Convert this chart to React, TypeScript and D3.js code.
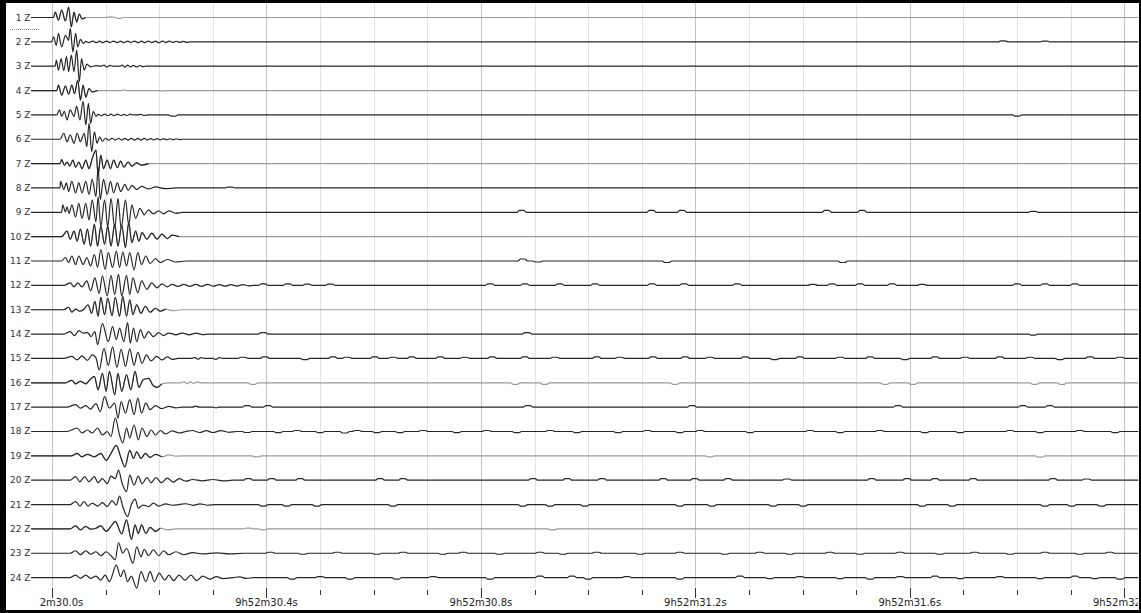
import React from "react";
import * as d3 from "d3";

const WIDTH = 1141;
const HEIGHT = 613;

// ---- data ----
const channelLabels = Array.from({ length: 24 }, (_, i) => `${i + 1} Z`);
const greyChannels = ["1 Z", "4 Z", "7 Z", "10 Z", "13 Z", "16 Z", "19 Z", "22 Z"];
const majorTickMs = [0, 400, 800, 1200, 1600, 2000];
const majorTickLabels = ["9h52m30.0s", "9h52m30.4s", "9h52m30.8s", "9h52m31.2s", "9h52m31.6s", "9h52m32.0s"];
const minorTickStepMs = 100;
const recordStartMs = -39;
const recordEndMs = 2026;

// arrival wavelets: [ms after 9h52m30.0s, amplitude]
const arrivals: [number, number][][] = [
  [[3,0],[6,5.5],[12,-2.5],[18,7.5],[25,-3.5],[31,10.5],[36,-9.5],[41,5.5],[46,-4.5],[51,3.5],[56,-1.5],[63,0],[100,0],[110,0.7],[118,0],[126,-1],[133,0]],
  [[-1,0],[3,5],[8,-3.5],[12,8.5],[18,-5],[25,6.5],[31,1.5],[34,13.5],[39,-10],[44,8.5],[48,-5],[53,2.5],[58,-1.5],[63,0.5],[69,-0.8],[76,0.8],[82,-0.8],[89,0.7],[95,-0.8],[102,0.8],[108,-0.7],[115,0.8],[121,-0.8],[128,0.7],[134,-0.8],[141,0.8],[147,-0.7],[154,0.8],[160,-0.8],[167,0.7],[173,-0.8],[180,0.8],[186,-0.7],[193,0.7],[199,-0.8],[206,0.7],[212,-0.7],[219,0.7],[225,-0.6],[232,0.6],[238,-0.6],[245,0.5],[251,-0.5],[257,0]],
  [[6,0],[8,6],[12,-4],[17,7.5],[22,-4.5],[27,9.5],[31,-5.5],[36,11],[41,-5.5],[46,16],[51,-15.5],[55,7.5],[60,-4],[65,2],[72,-0.7],[82,0.5],[91,0],[97,1],[102,-0.8],[108,0.8],[113,0],[126,0],[131,1],[136,-1],[141,1],[146,-0.8],[152,0.8],[158,-0.8],[164,0.7],[170,-0.5],[175,0]],
  [[9,0],[12,5.5],[18,-4.5],[25,4.5],[31,-3.5],[37,5.5],[42,-3],[48,10.5],[53,-9.5],[58,5.5],[63,-6.5],[69,2],[75,-1.5],[85,0],[130,0],[135,0.6],[140,0],[200,0],[205,-0.6],[210,0]],
  [[9,0],[14,5],[18,-1.5],[23,3.5],[28,-5],[34,5],[41,-1.5],[46,8.5],[52,-5],[58,13.5],[63,-10],[68,11.5],[72,-8.5],[77,3.5],[82,-1.5],[86,0.5],[92,-0.7],[98,0.7],[104,-0.7],[110,0.7],[116,-0.7],[122,0.7],[128,-0.6],[134,0.6],[140,-0.6],[146,0.8],[150,0],[160,0],[166,0.6],[172,-0.6],[180,0]],
  [[15,0],[22,6],[28,-2.5],[34,4.5],[41,-4],[47,6],[53,-2.5],[60,6],[65,-7.5],[69,16],[74,-12.5],[79,7.5],[84,-4],[89,2.5],[94,-2],[100,1],[106,-1],[112,1],[118,-0.8],[124,1],[130,-0.8],[136,0.8],[142,-0.8],[148,0.8],[154,-0.8],[160,0.8],[166,-0.8],[172,0.8],[178,-0.7],[184,0.7],[190,-0.7],[196,0.6],[202,-0.6],[208,0.6],[214,-0.5],[220,0.5],[226,-0.5],[232,0.5],[238,-0.4],[244,0]],
  [[15,0],[18,4],[23,-1.5],[28,1.5],[33,-2.5],[39,3.5],[44,-3.5],[50,1.5],[56,-5],[63,3.5],[69,-5],[75,5],[82,13.5],[86,-11.5],[91,8.5],[96,-5],[103,3.5],[109,-5],[115,3.5],[122,-4],[128,2.5],[134,-3.5],[142,1.5],[149,-2.5],[158,0.7],[167,-1.5],[180,0]],
  [[15,0],[16,6.5],[22,-1.5],[27,5],[31,-3.5],[37,6.5],[44,-5],[50,5],[56,-5],[63,6.5],[69,-6.5],[75,8.5],[82,-8.5],[86,20],[90,-11.5],[96,8.5],[103,-6.5],[109,6.5],[115,-5],[122,5],[128,-3.5],[136,3.5],[142,-2.5],[149,2.5],[158,-1.5],[167,1.5],[180,-1],[193,1],[212,-0.7],[231,0]],
  [[18,0],[20,7.5],[25,0.5],[28,5.5],[32,-1],[37,7.5],[44,-4.5],[50,9],[56,-6],[63,9],[69,-7.5],[75,12.5],[82,-9.5],[86,15.5],[91,-14.5],[98,12.5],[104,-14.5],[110,14],[117,-16],[123,14],[129,-16],[137,12.5],[143,-12.5],[149,7.5],[156,-6],[164,4],[172,-2.5],[180,2.5],[189,-1.5],[199,1.5],[208,-1.5],[218,1.5],[231,-1],[243,0]],
  [[18,0],[28,5.5],[34,-2.5],[41,5.5],[47,-4.5],[53,7.5],[60,-7.5],[66,7.5],[72,-9.5],[79,12.5],[85,-9.5],[91,10.5],[98,-7.5],[104,10.5],[110,-9.5],[117,12.5],[123,-9.5],[130,11.5],[137,-11],[143,14],[149,-6],[156,5.5],[162,-4.5],[168,4],[177,-2.5],[186,3.5],[196,-2.5],[205,2.5],[215,-2],[224,1.5],[237,0]],
  [[18,0],[25,3.5],[31,-1.5],[37,5],[44,-3.5],[50,5],[58,-3.5],[65,3.5],[72,-5],[79,6.5],[85,-6.5],[91,11.5],[99,-8.5],[105,8.5],[113,-6.5],[120,10],[126,-6.5],[132,9],[139,-5],[145,8.5],[153,-9],[160,8.5],[167,-3.5],[175,5],[183,-2.5],[193,2.5],[202,-1.5],[215,1.5],[231,-1],[250,0]],
  [[22,0],[34,2.5],[41,-1.5],[48,2.5],[56,-1.5],[65,4.5],[72,-5.5],[80,7.5],[88,-8],[94,9.5],[103,-10.5],[110,10],[117,-9],[124,11],[130,-10.5],[139,10],[145,-9],[151,7.5],[160,-7.5],[167,4.5],[177,-4],[186,2.5],[196,-2.5],[205,1.5],[215,-1.5],[224,1],[235,-1],[246,1],[257,-1],[268,1],[279,-1],[290,1],[301,-0.8],[312,0.8],[323,-0.8],[334,0.8],[345,-0.7],[356,0.7],[367,-0.5],[376,0]],
  [[22,0],[31,2.5],[37,-2.5],[44,0.7],[52,-1.5],[60,0.7],[67,5],[74,-3.5],[80,8.5],[86,-6.5],[91,12.5],[98,-5],[104,11.5],[112,-6],[118,12.5],[126,-6.5],[132,13.5],[139,-6.5],[145,10],[151,-5],[158,5],[166,-3.5],[174,3.5],[183,-2.5],[193,1.5],[202,-1.5],[212,0.7],[224,-1],[243,0]],
  [[22,0],[34,2.5],[42,-1.5],[50,3.5],[58,1],[66,1.5],[73,-2.5],[80,2.5],[85,-10.5],[94,10.5],[105,-7.5],[113,7.5],[120,-5.5],[126,6],[134,-7.5],[141,11.5],[146,-9],[152,6],[158,-7.5],[165,4.5],[172,-4],[180,2.5],[189,-2.5],[199,1.5],[208,-1.5],[218,1],[231,-0.7],[243,1],[256,-0.7],[269,1],[281,-0.5],[291,0]],
  [[22,0],[37,2],[47,-1.5],[56,2.5],[66,-2],[75,3.5],[82,0.5],[88,-11.5],[97,10],[105,-7],[113,11.5],[121,-9],[129,9],[137,-8],[145,9.5],[153,-7],[160,6],[168,-5],[176,3.5],[185,-2.5],[195,2],[205,-1.5],[215,1.5],[225,-1],[235,0],[260,0],[266,1],[272,-0.8],[278,0.8],[284,0],[300,0],[306,-1],[312,0.8],[318,0]],
  [[25,0],[37,2.5],[44,-1],[53,1.5],[63,-1],[71,3],[79,6.5],[86,-7],[94,9.5],[101,-8.5],[107,11.5],[117,-12],[123,9.5],[130,-8.5],[139,8],[147,-7],[155,11.5],[162,-4.5],[170,3],[180,4.5],[189,-3],[196,-4.5],[205,-1],[218,0],[240,0],[246,1],[252,-1],[258,1],[264,-0.7],[270,0.7],[276,0],[285,0]],
  [[28,0],[44,2.5],[53,-1],[63,1.5],[72,-2],[82,3.5],[90,-4.5],[98,10.5],[107,-1],[117,4],[123,-11],[129,5.5],[137,-6],[145,7.5],[153,-7.5],[160,9],[167,-6],[175,4],[183,-2.5],[193,1.5],[205,-1.5],[218,0.7],[231,-0.7],[243,0],[262,0],[268,1],[274,0],[300,0],[306,-0.8],[312,0]],
  [[28,0],[47,3.5],[56,-1.5],[66,1.5],[75,-1.5],[85,3.5],[94,-3.5],[103,0],[110,-5],[118,13.5],[126,-3.5],[132,-11.5],[139,3.5],[145,-6.5],[153,6.5],[161,-8.5],[168,3.5],[177,-5],[185,1.5],[193,-3.5],[202,1],[212,-2.5],[224,0.7],[237,-1.5],[250,0],[262,1],[275,-1],[288,0.8],[300,-1],[315,0.8],[330,-0.8],[345,0]],
  [[37,0],[47,2.5],[56,-1],[66,1.5],[79,-1],[91,2.5],[101,-4.5],[110,2.5],[120,10.5],[128,-1],[136,-11],[145,5.5],[152,-2.5],[158,4],[166,-2.5],[174,2.5],[183,-1.5],[193,1.5],[205,-1],[218,1],[231,-0.3],[243,0]],
  [[34,0],[44,3.5],[52,-1.5],[61,3.5],[69,-1.5],[79,3.5],[86,-2.5],[94,1.5],[103,-3.5],[110,4],[118,1.5],[124,10],[131,-3.5],[139,-11.5],[145,5],[153,-5],[161,4],[168,-3.5],[177,2.5],[185,-2.5],[194,2.5],[204,-2.5],[215,2],[226,-2],[237,1.5],[250,-1],[262,0.7],[281,-0.7],[300,0.7],[319,-0.7],[338,0]],
  [[34,0],[44,3],[52,-1.5],[60,3],[67,-1.5],[75,1.5],[85,-1.5],[94,2],[103,-2],[112,4],[120,-0.5],[126,8.5],[132,-2],[141,-12],[148,0],[155,5.5],[161,-3.5],[170,-0.5],[180,-2],[189,1.5],[199,-1.5],[212,0.7],[224,-0.7],[237,0],[250,0.8],[263,-0.8],[276,0.7],[290,-0.7],[305,0]],
  [[34,0],[44,3],[53,-1],[63,2.5],[72,-0.3],[82,0.7],[91,3],[101,-2.5],[110,2.5],[118,7.5],[130,-5],[139,9],[148,-10.5],[155,4],[161,-4.5],[167,4],[175,-4.5],[183,1.5],[193,-2.5],[202,0.7],[215,-1],[231,0]],
  [[34,0],[44,2.5],[53,-1.5],[63,2.5],[72,-1],[82,1.5],[91,-2.5],[101,1.5],[110,-2.5],[118,-6.5],[124,10.5],[132,0],[139,5],[151,-10],[158,6.5],[166,-3.5],[172,4],[180,-2.5],[189,3.5],[199,-2.5],[208,2.5],[218,-1.5],[231,1.5],[246,-1.5],[262,0.7],[281,-0.7],[307,0.3],[332,-0.7],[357,0]],
  [[34,0],[44,2.5],[53,-0.7],[63,2.5],[72,-0.7],[82,1.5],[91,-2.5],[99,2.5],[107,-4],[120,12.5],[128,1],[134,7.5],[141,-4],[148,1.5],[158,-10.5],[166,6],[175,-4],[183,6],[191,-4],[200,4.5],[210,-2.5],[218,2.5],[227,-3],[237,2.5],[248,-2.5],[259,2.5],[270,-3],[281,1.5],[294,-1.5],[307,1],[319,-1],[338,0],[350,0.8],[362,-0.8],[376,0]],
];

// small later pulses on each channel: [ms, amplitude]
const pulses: [number, number][][] = [
  [],
  [[1774,1],[1852,0.8]],
  [],
  [],
  [[226,-1.2],[1800,-1.2]],
  [],
  [],
  [[332,0.8]],
  [[876,2],[1118,2],[1175,2],[1445,2],[1511,2],[1830,1]],
  [],
  [[878,2],[906,-1],[1147,-1.5],[1475,-1.5]],
  [[394,1.5],[440,1.5],[476,1.2],[519,1.2],[817,1.5],[882,1.5],[947,1.5],[1013,1.5],[1119,1.5],[1179,1.5],[1278,1.5],[1419,1],[1455,1.5],[1507,1.5],[1567,1.5],[1623,1],[1800,1.5],[1852,1.5],[1908,1.5]],
  [],
  [[394,1.5],[886,1.5],[1830,-1]],
  [[356,1.2],[397,1.5],[472,-1.2],[524,1.5],[550,1.2],[602,1.5],[636,1.2],[671,1.5],[724,1.5],[770,1.2],[821,1.5],[882,1.5],[938,1.2],[1016,1.5],[1059,1.2],[1121,1.5],[1181,1.5],[1227,1.2],[1293,1.5],[1348,-1.2],[1395,1.5],[1470,1.2],[1526,1.5],[1591,-1.2],[1647,1.5],[1703,1.2],[1768,1.5],[1824,1.2],[1880,-1.2],[1936,1.5],[1992,1.2]],
  [[375,-1.5],[864,-1.5],[919,-1.5],[1162,-1.5],[1554,-1.5],[1606,-1.5],[1833,-1.5],[1884,-1.5]],
  [[364,1.5],[403,1.5],[888,1.5],[1194,1.5],[1578,1.5],[1811,1.5],[1861,1.5]],
  [[364,-1],[422,-1.2],[457,1],[500,-1.2],[546,-1.5],[569,1],[606,-1.2],[649,-1.2],[692,1],[755,-1.2],[811,1],[867,-1.2],[929,1],[979,-1.2],[1056,-1.2],[1110,1],[1171,-1.2],[1209,1],[1302,-1.2],[1414,1],[1470,-1.2],[1544,1],[1628,-1.2],[1694,-1.2],[1787,1],[1843,-1.2],[1917,1],[1983,-1.2]],
  [[382,-1],[1227,-1],[1843,-1.2]],
  [[366,1.5],[410,1.5],[463,1.5],[612,1.5],[655,1.5],[897,1.5],[961,1.5],[1026,1.5],[1140,1.5],[1199,1.5],[1261,1.5],[1371,1.2],[1529,1.5],[1595,1.5],[1647,1.5],[1718,1.5],[1867,1.5],[1930,1.2]],
  [[394,-1.5],[438,-1.5],[494,-1.5],[636,-1.5],[878,-1.5],[929,-1.5],[994,-1.5],[1171,-1.5],[1231,-1.5],[1345,-1.5],[1401,-1.5],[1623,-1.5],[1679,-1.5],[1852,-1.5],[1902,-1.5],[1958,-1.5]],
  [[366,0.7],[394,-0.7],[934,-1]],
  [[407,1],[468,-1],[532,1],[606,-1],[655,1],[729,-1],[767,1],[835,-1],[910,1],[953,-1],[1016,1],[1097,-1],[1171,1],[1255,-1],[1320,1],[1376,-1],[1451,1],[1507,-1],[1582,1],[1656,-1],[1721,1],[1787,-1],[1852,1],[1917,-1],[1973,1]],
  [[448,-1.5],[500,1],[556,-1.5],[643,-1.5],[711,1],[817,-1.5],[910,1.5],[970,1.5],[1000,-1.5],[1072,1],[1171,-1.5],[1283,1.5],[1339,-1],[1395,1],[1470,-1],[1526,-1.5],[1582,1],[1647,1.5],[1694,-1],[1768,1],[1843,-1],[1908,1.5],[1945,-1],[1992,-1.5]],
];

const DARK = "#262626";
const GREY = "#9a9a9a";
const FONT = "'DejaVu Sans', Verdana, sans-serif";

export default function App() {
  const x = d3.scaleLinear().domain([0, 2000]).range([52, 1124.3]);
  const y = d3.scalePoint<string>().domain(channelLabels).range([17.5, 577.6]);
  const amp = d3.scaleLinear().domain([-10, 10]).range([10, -10]);
  const minorTicks = d3.range(0, recordEndMs, minorTickStepMs);

  const traces = channelLabels.map((label, i) => {
    const base = y(label) as number;
    const line = d3
      .line<[number, number]>()
      .x((d) => x(d[0]))
      .y((d) => base + amp(d[1]))
      .curve(d3.curveMonotoneX);
    const w = arrivals[i];
    const lastT = w[w.length - 1][0];
    const pts: [number, number][] = [[recordStartMs, 0], ...w];
    for (const [t, a] of pulses[i]) {
      if (t - 9 <= lastT) continue;
      pts.push([t - 9, 0], [t - 4, a], [t + 4, a], [t + 9, 0]);
    }
    pts.push([recordEndMs, 0]);
    pts.sort((p, q) => p[0] - q[0]);
    // dark head: start of record through the last strong swing of the arrival
    let lastStrong = 0;
    w.forEach((d, k) => {
      if (Math.abs(d[1]) >= 1.5) lastStrong = k;
    });
    const head: [number, number][] = [[recordStartMs, 0], ...w.slice(0, Math.min(w.length, lastStrong + 2))];
    const grey = greyChannels.includes(label);
    return { label, base, full: line(pts) || "", head: line(head) || "", grey };
  });

  return (
    <div style={{ position: "absolute", left: 0, top: 0, width: WIDTH, height: HEIGHT }}>
      <svg width={WIDTH} height={HEIGHT} style={{ display: "block" }}>
        <defs>
          <clipPath id="axisClip">
            <rect x={40} y={580} width={1098} height={30} />
          </clipPath>
        </defs>
        <rect x={0} y={0} width={WIDTH} height={HEIGHT} fill="#fff" />
        {/* grid */}
        {minorTicks.map((t) => (
          <line
            key={"g" + t}
            x1={Math.round(x(t)) + 0.5}
            x2={Math.round(x(t)) + 0.5}
            y1={3}
            y2={587}
            stroke={majorTickMs.includes(t) ? "#c4c4c4" : "#e2e2e2"}
            strokeWidth={1}
          />
        ))}
        {/* traces */}
        {traces.map((tr) => (
          <g key={tr.label}>
            <path d={tr.full} fill="none" stroke={tr.grey ? GREY : DARK} strokeWidth={1.2} />
            {tr.grey && <path d={tr.head} fill="none" stroke={DARK} strokeWidth={1.2} />}
            <text
              x={30.5}
              y={tr.base}
              textAnchor="end"
              dominantBaseline="central"
              fontFamily={FONT}
              fontSize={9}
              fill="#333"
            >
              {tr.label}
            </text>
          </g>
        ))}
        <line x1={10} x2={40} y1={29.5} y2={29.5} stroke="#888" strokeDasharray="1,1" />
        {/* axis ticks */}
        {minorTicks.map((t) => {
          const major = majorTickMs.includes(t);
          const xx = Math.round(x(t)) + 0.5;
          return (
            <line
              key={"t" + t}
              x1={xx}
              x2={xx}
              y1={major ? 588 : 590}
              y2={major ? 598 : 595}
              stroke="#333"
              strokeWidth={1}
            />
          );
        })}
        <g clipPath="url(#axisClip)">
          {majorTickMs.map((t, i) => (
            <text
              key={"l" + t}
              x={x(t)}
              y={606}
              textAnchor="middle"
              fontFamily={FONT}
              fontSize={10}
              fill="#222"
            >
              {majorTickLabels[i]}
            </text>
          ))}
        </g>
        {/* window frame */}
        <rect x={0} y={0} width={WIDTH} height={3} fill="#000" />
        <rect x={0} y={0} width={6} height={HEIGHT} fill="#000" />
        <rect x={0} y={610} width={WIDTH} height={3} fill="#000" />
        <rect x={1139} y={0} width={2} height={HEIGHT} fill="#000" />
      </svg>
    </div>
  );
}
